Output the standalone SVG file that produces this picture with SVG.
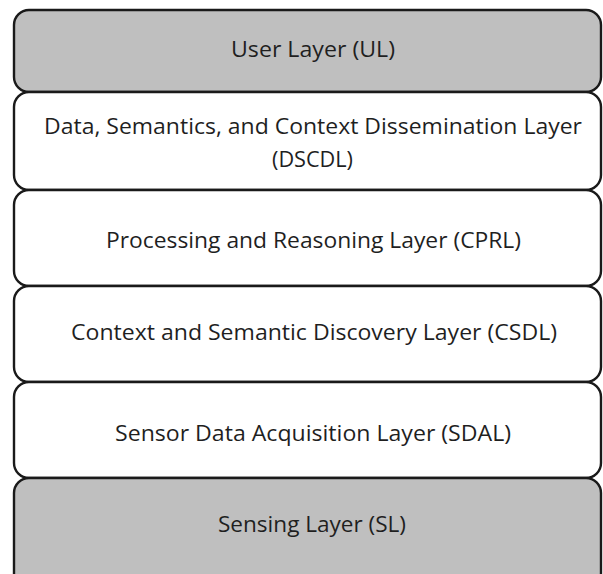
<svg xmlns="http://www.w3.org/2000/svg" width="603" height="574" viewBox="0 0 603 574">
<style>
.box{stroke:#1a1a1a;stroke-width:2.4}
.g{fill:#bfbfbf}
.w{fill:#ffffff}
.t{font-family:"Open Sans","Liberation Sans",Arial,sans-serif;font-size:21px;fill:#1f1f1f;text-anchor:start}
</style>
<rect width="603" height="574" fill="#ffffff"/>
<g id="UL">
<rect class="box g" x="14" y="10" width="587" height="82" rx="15"/>
<text class="t" x="231" y="57" textLength="164" lengthAdjust="spacingAndGlyphs">User Layer (UL)</text>
</g>
<g id="DSCDL">
<rect class="box w" x="14" y="92" width="587" height="98" rx="15"/>
<text class="t" x="44" y="134" textLength="538" lengthAdjust="spacingAndGlyphs">Data, Semantics, and Context Dissemination Layer</text>
<text class="t" x="272" y="167" textLength="81" lengthAdjust="spacingAndGlyphs">(DSCDL)</text>
</g>
<g id="CPRL">
<rect class="box w" x="14" y="190" width="587" height="96" rx="15"/>
<text class="t" x="106" y="248" textLength="415" lengthAdjust="spacingAndGlyphs">Processing and Reasoning Layer (CPRL)</text>
</g>
<g id="CSDL">
<rect class="box w" x="14" y="286" width="587" height="96" rx="15"/>
<text class="t" x="71" y="340" textLength="486" lengthAdjust="spacingAndGlyphs">Context and Semantic Discovery Layer (CSDL)</text>
</g>
<g id="SDAL">
<rect class="box w" x="14" y="382" width="587" height="96" rx="15"/>
<text class="t" x="115" y="441" textLength="396" lengthAdjust="spacingAndGlyphs">Sensor Data Acquisition Layer (SDAL)</text>
</g>
<g id="SL">
<rect class="box g" x="14" y="478" width="587" height="110" rx="15"/>
<text class="t" x="218" y="532" textLength="188" lengthAdjust="spacingAndGlyphs">Sensing Layer (SL)</text>
</g>
<g id="connectors"></g>
</svg>
